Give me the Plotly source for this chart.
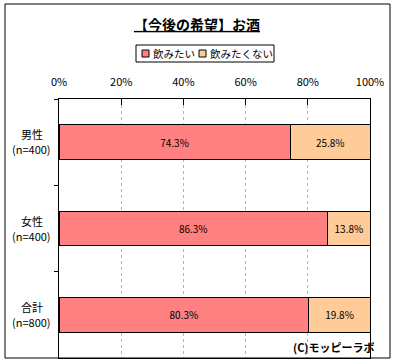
import plotly.graph_objects as go

categories = ["男性", "女性", "合計"]
sample_sizes = ["(n=400)", "(n=400)", "(n=800)"]
series_names = ["飲みたい", "飲みたくない"]
want = [74.3, 86.3, 80.3]
not_want = [25.8, 13.8, 19.8]
tick_vals = [0, 20, 40, 60, 80, 100]
tick_text = ["0%", "20%", "40%", "60%", "80%", "100%"]
colors = ["#FF8080", "#FFCC99"]

FONT = "Noto Sans CJK JP"
W, H = 395, 363
L, R, T, B = 59, 25, 99, 5
pw, ph = W - L - R, H - T - B

def px_x(p):
    return (p - L) / pw

def px_y(p):
    return 1 + (T - p) / ph

fig = go.Figure()
for vals, name, col in [(want, series_names[0], colors[0]), (not_want, series_names[1], colors[1])]:
    fig.add_trace(go.Bar(
        y=categories, x=vals, name=name, orientation="h", showlegend=False,
        marker=dict(color=col, line=dict(color="black", width=1)),
        texttemplate="%{x:.1f}%", textposition="inside", insidetextanchor="middle",
        textfont=dict(color="black", size=10, family=FONT), textangle=0,
    ))

shapes = [
    dict(type="rect", xref="paper", yref="paper",
         x0=px_x(5), x1=px_x(390), y0=px_y(358), y1=px_y(4),
         line=dict(color="black", width=1), fillcolor="rgba(0,0,0,0)", layer="above"),
    # legend box
    dict(type="rect", xref="paper", yref="paper",
         x0=px_x(136), x1=px_x(274), y0=px_y(62), y1=px_y(45),
         line=dict(color="black", width=1), fillcolor="white"),
    dict(type="rect", xref="paper", yref="paper",
         x0=px_x(142), x1=px_x(149), y0=px_y(57), y1=px_y(50),
         line=dict(color="black", width=1), fillcolor=colors[0]),
    dict(type="rect", xref="paper", yref="paper",
         x0=px_x(199), x1=px_x(206), y0=px_y(57), y1=px_y(50),
         line=dict(color="black", width=1), fillcolor=colors[1]),
]

annotations = [
    dict(text=series_names[0], xref="paper", yref="paper", x=px_x(151), y=px_y(54),
         xanchor="left", yanchor="middle", showarrow=False, font=dict(size=10.5, family=FONT)),
    dict(text=series_names[1], xref="paper", yref="paper", x=px_x(208), y=px_y(54),
         xanchor="left", yanchor="middle", showarrow=False, font=dict(size=10.5, family=FONT)),
    dict(text="<b>(C)モッピーラボ</b>", xref="paper", yref="paper",
         x=px_x(377), y=px_y(347), xanchor="right", yanchor="middle",
         showarrow=False, font=dict(size=11, family=FONT)),
]
for cat, n in zip(categories, sample_sizes):
    annotations.append(dict(text=cat, xref="paper", yref="y", x=px_x(32), y=cat, yshift=8,
                            xanchor="center", yanchor="middle", showarrow=False,
                            font=dict(size=11, family=FONT)))
    annotations.append(dict(text=n, xref="paper", yref="y", x=px_x(32), y=cat, yshift=-7,
                            xanchor="center", yanchor="middle", showarrow=False,
                            font=dict(size=11, family=FONT)))

fig.update_layout(
    width=W, height=H,
    margin=dict(l=L, r=R, t=T, b=B, autoexpand=False),
    barmode="stack", bargap=0.6,
    paper_bgcolor="white", plot_bgcolor="white",
    font=dict(family=FONT, size=11, color="black"),
    title=dict(text="<b><u>【今後の希望】お酒</u></b>", x=px_x(197), xref="paper", xanchor="center",
               y=1 - 25 / H, yanchor="middle", font=dict(size=14, family=FONT), automargin=False),
    showlegend=False,
    xaxis=dict(range=[0, 100], side="top", tickvals=tick_vals, ticktext=tick_text,
               showgrid=True, gridcolor="#B4B4B4", griddash="3px,3px", gridwidth=1,
               ticks="inside", ticklen=6, tickcolor="black", ticklabelstandoff=8,
               showline=True, linecolor="black", mirror=True, zeroline=False,
               tickfont=dict(size=11, family=FONT), fixedrange=True, automargin=False),
    yaxis=dict(autorange="reversed", ticks="outside", tickson="boundaries", ticklen=4,
               tickcolor="black", showline=True, linecolor="black", mirror=True,
               showticklabels=False, fixedrange=True, automargin=False),
    shapes=shapes,
    annotations=annotations,
)

fig.write_html("out.html", config={"displayModeBar": False},
               post_script="document.body.style.margin='0';document.body.style.overflow='hidden';")
